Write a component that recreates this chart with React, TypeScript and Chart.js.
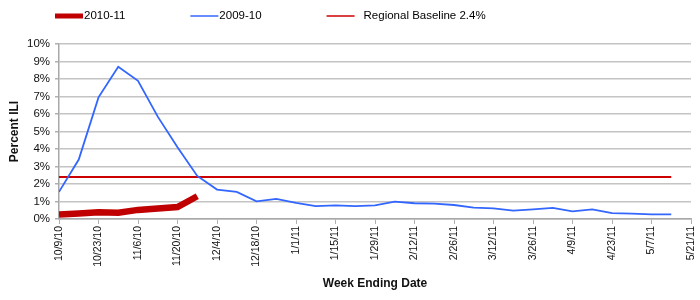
import React, { useEffect, useRef } from 'react';
import { Chart, registerables } from 'chart.js';

Chart.register(...registerables);

// Week ending dates, every second week (x = week index, 0 = 10/9/10)
const tickLabels = [
  '10/9/10', '10/23/10', '11/6/10', '11/20/10', '12/4/10', '12/18/10', '1/1/11', '1/15/11',
  '1/29/11', '2/12/11', '2/26/11', '3/12/11', '3/26/11', '4/9/11', '4/23/11', '5/7/11', '5/21/11',
];
const totalWeeks = 32;

// Percent ILI, weekly
const season2010 = [0.25, 0.32, 0.38, 0.36, 0.52, 0.6, 0.68, 1.3];
const season2009 = [
  1.55, 3.4, 6.95, 8.7, 7.9, 5.85, 4.1, 2.46, 1.68, 1.55, 1.01, 1.15, 0.92, 0.74, 0.78, 0.74,
  0.78, 0.99, 0.9, 0.88, 0.8, 0.65, 0.61, 0.48, 0.55, 0.63, 0.44, 0.55, 0.34, 0.31, 0.27, 0.27,
];
const baselineValue = 2.4;
const baselineWeeks = [0, 31];

const seriesLabels = ['2010-11', '2009-10', 'Regional Baseline 2.4%'];
const yTicks = [0, 1, 2, 3, 4, 5, 6, 7, 8, 9, 10];

const FONT = "'Liberation Sans', Arial, sans-serif";

const legendPlugin = {
  id: 'customLegend',
  afterDraw(chart: any) {
    const ctx = chart.ctx;
    const ds = chart.data.datasets;
    const gaps = [1, 1, 9];
    let x = 55;
    const y = 16;
    ctx.save();
    ctx.font = `11.5px ${FONT}`;
    ctx.textBaseline = 'middle';
    ctx.textAlign = 'left';
    ds.forEach((d: any, i: number) => {
      ctx.strokeStyle = d.borderColor;
      ctx.lineWidth = d.legendWidth;
      ctx.beginPath();
      ctx.moveTo(x, y);
      ctx.lineTo(x + 28, y);
      ctx.stroke();
      const tx = x + 28 + gaps[i];
      ctx.fillStyle = '#000';
      ctx.fillText(d.label, tx, y);
      x = tx + ctx.measureText(d.label).width + 65;
    });
    ctx.restore();
  },
};

export default function App() {
  const ref = useRef<HTMLCanvasElement>(null);
  useEffect(() => {
    document.body.style.margin = '0';
    const canvas = ref.current!;
    const chart = new Chart(canvas, {
      type: 'line',
      data: {
        datasets: [
          {
            label: seriesLabels[0],
            data: season2010.map((v, i) => ({ x: i, y: v })),
            borderColor: '#c00000',
            borderWidth: 6.5,
            legendWidth: 5,
            pointRadius: 0,
            tension: 0,
            order: 0,
          } as any,
          {
            label: seriesLabels[1],
            data: season2009.map((v, i) => ({ x: i, y: v })),
            borderColor: '#3366ff',
            borderWidth: 1.8,
            legendWidth: 1.5,
            pointRadius: 0,
            tension: 0,
            order: 1,
          } as any,
          {
            label: seriesLabels[2],
            data: baselineWeeks.map((w) => ({ x: w, y: baselineValue })),
            borderColor: '#cc0000',
            borderWidth: 2,
            legendWidth: 1.5,
            pointRadius: 0,
            order: 2,
          } as any,
        ],
      },
      options: {
        responsive: false,
        animation: false,
        layout: { padding: { top: 44, right: 9, left: 0, bottom: 0 } },
        plugins: { legend: { display: false }, tooltip: { enabled: false } },
        scales: {
          x: {
            type: 'linear',
            min: 0,
            max: totalWeeks,
            afterFit: (s: any) => {
              s.height = 81;
              s.paddingLeft = 0;
              s.paddingRight = 0;
            },
            afterBuildTicks: (s: any) => {
              s.ticks = tickLabels.map((_, i) => ({ value: i * 2 }));
            },
            ticks: {
              autoSkip: false,
              minRotation: 90,
              maxRotation: 90,
              padding: 2,
              color: '#111',
              font: { family: FONT, size: 10.5 },
              callback: (v: any) => tickLabels[Math.round(Number(v) / 2)] ?? '',
            },
            grid: { drawOnChartArea: false, drawTicks: true, tickLength: 5, color: '#b0b0b0' },
            border: { color: '#a8a8a8', width: 1.5 },
            title: {
              display: true,
              text: 'Week Ending Date',
              color: '#111',
              font: { family: FONT, size: 12, weight: 'bold' },
              padding: { top: 0, bottom: 9 },
            },
          },
          y: {
            min: 0,
            max: 10,
            afterFit: (s: any) => {
              s.width = 59;
              s.paddingTop = 0;
              s.paddingBottom = 0;
            },
            afterBuildTicks: (s: any) => { s.ticks = yTicks.map((v) => ({ value: v })); },
            ticks: {
              padding: 5,
              color: '#111',
              font: { family: FONT, size: 11.5 },
              callback: (v: any) => `${v}%`,
            },
            grid: { color: '#c4c4c4', lineWidth: 1.5, tickLength: 4, tickColor: '#b0b0b0' },
            border: { color: '#a8a8a8', width: 1.5 },
            title: {
              display: true,
              text: 'Percent ILI',
              color: '#111',
              font: { family: FONT, size: 12, weight: 'bold' },
              padding: { top: 7, bottom: 0 },
            },
          },
        },
      } as any,
      plugins: [legendPlugin],
    });
    return () => chart.destroy();
  }, []);
  return <canvas ref={ref} width={700} height={300} style={{ display: 'block' }} />;
}
